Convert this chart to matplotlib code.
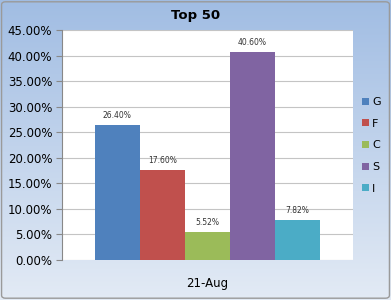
import numpy as np
import matplotlib.pyplot as plt
from matplotlib.patches import FancyBboxPatch

# Chart data
categories = ['G', 'F', 'C', 'S', 'I']
values = [26.40, 17.60, 5.52, 40.60, 7.82]
colors = ['#4f81bd', '#c0504d', '#9bbb59', '#8064a2', '#4bacc6']
group_label = '21-Aug'

W, H = 391, 300
fig = plt.figure(figsize=(W / 100, H / 100), dpi=100)

# Gradient background
bg = fig.add_axes([0, 0, 1, 1], zorder=-10)
grad = np.linspace(0, 1, 256).reshape(-1, 1)
top = np.array([0.63, 0.74, 0.89])
bot = np.array([0.89, 0.92, 0.96])
img = top + (bot - top) * grad[:, :, None]
bg.imshow(img, aspect='auto', extent=[0, 1, 0, 1])
bg.add_patch(FancyBboxPatch((0.004, 0.006), 0.992, 0.988,
                            boxstyle='round,pad=0,rounding_size=0.01',
                            fill=False, edgecolor='#9a9a9a', lw=1.0,
                            transform=bg.transAxes))
bg.set_xlim(0, 1)
bg.set_ylim(0, 1)
bg.axis('off')

# Plot area in pixels
x0, x1 = 62, 353
y_top, y_bot = 30, 260
ax = fig.add_axes([x0 / W, 1 - y_bot / H, (x1 - x0) / W, (y_bot - y_top) / H])
ax.set_facecolor('white')

bar_w = 0.155
offsets = (np.arange(len(values)) - (len(values) - 1) / 2) * bar_w
for off, v, c, lab in zip(offsets, values, colors, categories):
    ax.bar(off, v, width=bar_w, color=c, label=lab, zorder=3)
    ax.text(off, v + 1.0, f'{v:.2f}%', ha='center', va='bottom',
            fontsize=5.5, color='#333333', zorder=4)

ax.set_xlim(-0.5, 0.5)
ax.set_ylim(0, 45)
ax.set_yticks(np.arange(0, 46, 5))
ax.set_yticklabels([f'{t:.2f}%' for t in np.arange(0, 46, 5)], fontsize=8.5)
ax.yaxis.grid(True, color='#c4c4c4', lw=0.8, zorder=0)
ax.set_xticks([0])
ax.set_xticklabels([group_label], fontsize=8.5)
ax.tick_params(axis='x', length=0, pad=12)
ax.tick_params(axis='y', length=4, color='#888888', pad=3)
for s in ['top', 'right', 'bottom']:
    ax.spines[s].set_visible(False)
ax.spines['left'].set_color('#888888')

fig.text(0.5, 1 - 15 / H, 'Top 50', fontsize=9.5, fontweight='bold',
         ha='center', va='center')

leg = fig.legend(loc='upper left', bbox_to_anchor=(362 / W, 1 - 97 / H),
                 frameon=False, fontsize=8, handlelength=0.6, handleheight=0.6,
                 handletextpad=0.3, labelspacing=1.05, borderpad=0,
                 borderaxespad=0)

fig.savefig('out.png', dpi=100)
